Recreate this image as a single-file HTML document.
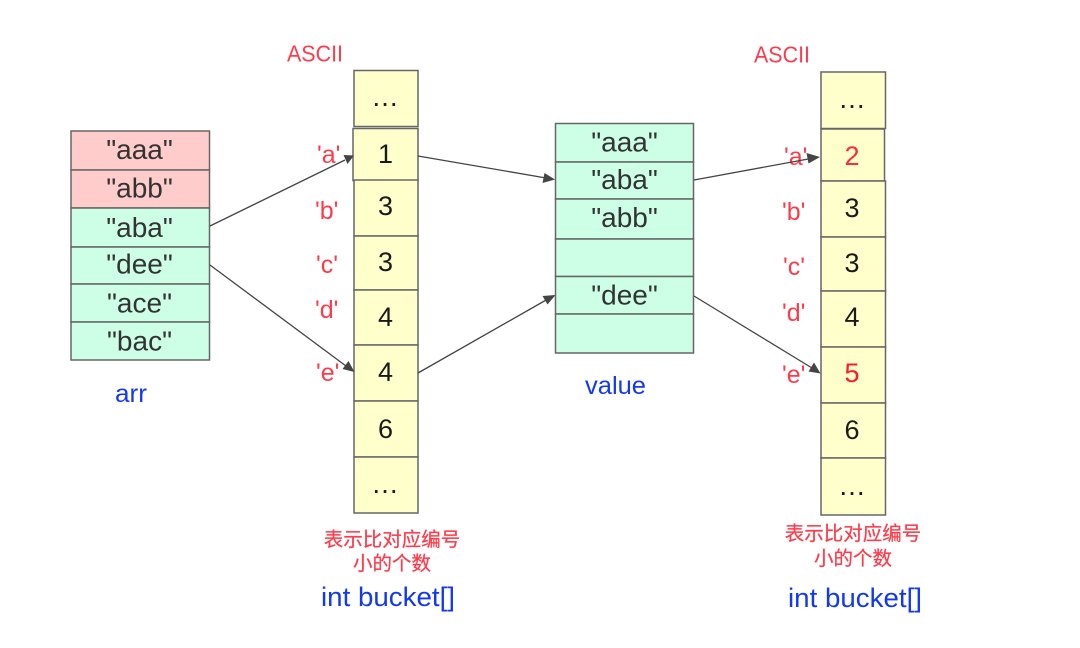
<!DOCTYPE html>
<html><head><meta charset="utf-8"><style>
html,body{margin:0;padding:0;background:#fff;width:1080px;height:648px;overflow:hidden}
svg{display:block}
text{font-family:"Liberation Sans","Noto Sans CJK SC",sans-serif}
.g rect{stroke:#666;stroke-width:1.5}
.s{font-size:28px;fill:#333;text-anchor:middle}
.n{font-size:27px;fill:#1a1a1a;text-anchor:middle}
.d{font-size:28px;fill:#1a1a1a;text-anchor:middle;letter-spacing:1px;font-variant-ligatures:none}
.r{font-size:23px;fill:#ff3b4b}
.l{font-size:25px;fill:#ff3b4b}
.b{font-size:27px;fill:#1238f0}
.c{font-size:19.5px;fill:#ff3b4b;text-anchor:middle;stroke:#ff3b4b;stroke-width:.25}
line{stroke:#444;stroke-width:1.3}
polygon{fill:#444}
</style></head><body>
<svg width="1080" height="648" viewBox="0 0 1080 648" xmlns="http://www.w3.org/2000/svg">
<g class="g">
<rect x="71" y="131" width="138.5" height="39" fill="#ffcccc"/>
<rect x="71" y="170" width="138.5" height="38" fill="#ffcccc"/>
<rect x="71" y="208" width="138.5" height="39" fill="#ccffe6"/>
<rect x="71" y="247" width="138.5" height="37" fill="#ccffe6"/>
<rect x="71" y="284" width="138.5" height="38" fill="#ccffe6"/>
<rect x="71" y="322" width="138.5" height="38" fill="#ccffe6"/>

<rect x="354" y="70.5" width="64" height="56" fill="#ffffcc"/>
<rect x="353" y="128.5" width="65" height="52" fill="#ffffcc"/>
<rect x="354" y="180" width="64" height="56" fill="#ffffcc"/>
<rect x="354" y="236" width="64" height="54" fill="#ffffcc"/>
<rect x="354" y="290" width="64" height="55" fill="#ffffcc"/>
<rect x="354" y="345" width="64" height="56" fill="#ffffcc"/>
<rect x="354" y="401" width="64" height="56" fill="#ffffcc"/>
<rect x="354" y="457" width="64" height="56" fill="#ffffcc"/>

<rect x="555.5" y="123.5" width="138" height="38.5" fill="#ccffe6"/>
<rect x="555.5" y="162" width="138" height="37" fill="#ccffe6"/>
<rect x="555.5" y="199" width="138" height="40" fill="#ccffe6"/>
<rect x="555.5" y="239" width="138" height="37.5" fill="#ccffe6"/>
<rect x="555.5" y="276.5" width="138" height="37.5" fill="#ccffe6"/>
<rect x="555.5" y="314" width="138" height="39" fill="#ccffe6"/>

<rect x="821" y="72" width="64.5" height="56.5" fill="#ffffcc"/>
<rect x="821" y="129" width="63.5" height="52" fill="#ffffcc"/>
<rect x="821" y="181" width="64.5" height="56" fill="#ffffcc"/>
<rect x="821" y="237" width="64.5" height="54" fill="#ffffcc"/>
<rect x="821" y="291" width="64.5" height="56" fill="#ffffcc"/>
<rect x="821" y="347" width="64.5" height="56" fill="#ffffcc"/>
<rect x="821" y="403" width="64.5" height="55" fill="#ffffcc"/>
<rect x="821" y="458" width="64.5" height="57" fill="#ffffcc"/>
</g>

<text class="s" x="139.5" y="159">"aaa"</text>
<text class="s" x="139.5" y="197.5">"abb"</text>
<text class="s" x="139.5" y="237">"aba"</text>
<text class="s" x="139.5" y="273.5">"dee"</text>
<text class="s" x="139.5" y="312.5">"ace"</text>
<text class="s" x="139.5" y="350.5">"bac"</text>

<text class="s" x="624.5" y="151.5">"aaa"</text>
<text class="s" x="624.5" y="189">"aba"</text>
<text class="s" x="624.5" y="227">"abb"</text>
<text class="s" x="624.5" y="304.5">"dee"</text>

<text class="d" x="385.5" y="106">...</text>
<text class="n" x="385.5" y="163">1</text>
<text class="n" x="385.5" y="215">3</text>
<text class="n" x="385.5" y="271">3</text>
<text class="n" x="385.5" y="326">4</text>
<text class="n" x="385.5" y="381">4</text>
<text class="n" x="385.5" y="438">6</text>
<text class="d" x="385.5" y="493">...</text>

<text class="d" x="852.5" y="108">...</text>
<text class="n" x="852" y="165" style="fill:#ff2a3a">2</text>
<text class="n" x="852" y="217">3</text>
<text class="n" x="852" y="272">3</text>
<text class="n" x="852" y="326">4</text>
<text class="n" x="852" y="382" style="fill:#ff1a2a">5</text>
<text class="n" x="852" y="439">6</text>
<text class="d" x="852.5" y="495">...</text>

<text class="r" x="287" y="61.5" textLength="56" lengthAdjust="spacingAndGlyphs">ASCII</text>
<text class="r" x="754" y="62.5" textLength="56" lengthAdjust="spacingAndGlyphs">ASCII</text>

<text class="l" x="317" y="163">'a'</text>
<text class="l" x="315" y="219">'b'</text>
<text class="l" x="316" y="273">'c'</text>
<text class="l" x="315" y="318">'d'</text>
<text class="l" x="316" y="381">'e'</text>

<text class="l" x="784" y="165">'a'</text>
<text class="l" x="782" y="220">'b'</text>
<text class="l" x="783" y="275">'c'</text>
<text class="l" x="782" y="321">'d'</text>
<text class="l" x="782" y="383">'e'</text>

<line x1="210" y1="226" x2="345" y2="160"/>
<polygon points="354,155.5 343.5,155 347.5,164"/>
<line x1="210" y1="265" x2="346" y2="366"/>
<polygon points="354.5,372 342.5,369 348.5,361"/>
<line x1="418" y1="156" x2="546" y2="178"/>
<polygon points="555,179.5 542.5,183 544.5,173"/>
<line x1="418" y1="373" x2="547" y2="299.5"/>
<polygon points="555.5,295 547.5,304.5 542.5,296"/>
<line x1="694" y1="180" x2="811" y2="158.5"/>
<polygon points="820,157 808.5,163.5 806.5,153"/>
<line x1="694" y1="296" x2="812" y2="368"/>
<polygon points="820.5,373.5 808.5,371.5 814,362.5"/>

<text class="b" x="115" y="402" textLength="32" lengthAdjust="spacingAndGlyphs" style="font-size:25px">arr</text>
<text class="b" x="585" y="394" textLength="61" lengthAdjust="spacingAndGlyphs" style="font-size:25px">value</text>
<text class="b" x="321" y="606" textLength="134" lengthAdjust="spacingAndGlyphs">int bucket[]</text>
<text class="b" x="788" y="607" textLength="134" lengthAdjust="spacingAndGlyphs">int bucket[]</text>

<text class="c" x="392" y="546">表示比对应编号</text>
<text class="c" x="392" y="570">小的个数</text>
<text class="c" x="853" y="540">表示比对应编号</text>
<text class="c" x="853" y="565">小的个数</text>
</svg>
</body></html>
